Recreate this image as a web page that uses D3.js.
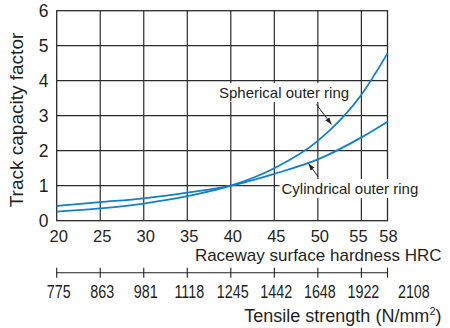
<!DOCTYPE html>
<html><head><meta charset="utf-8">
<script src="https://cdn.jsdelivr.net/npm/d3@7"></script>
<style>
html,body{margin:0;padding:0;background:#fff;}
svg{display:block;}
text{font-family:"Liberation Sans",Arial,Helvetica,sans-serif;fill:#231f20;}
</style></head>
<body>
<svg id="chart" width="450" height="328"></svg>
<script>
// HRC tick values (x axis) and y ticks
const hrcTicks = [20, 25, 30, 35, 40, 45, 50, 55, 58];
const yTicks = [0, 1, 2, 3, 4, 5, 6];
// Tensile strength labels (N/mm²) placed at HRC positions
const tensileLabels = ["775", "863", "981", "1118", "1245", "1442", "1648", "1922", "2108"];
const tensileHrc = [20, 25, 30, 35, 40, 45, 50, 55, 60.8];
// Curves
const hrc = [20, 25, 30, 35, 40, 45, 50, 55, 58];
const spherical = [0.26, 0.35, 0.49, 0.70, 1.0, 1.50, 2.28, 3.60, 4.78];
const cylindrical = [0.42, 0.53, 0.64, 0.80, 1.0, 1.34, 1.75, 2.38, 2.83];

const svg = d3.select("#chart");
const x = d3.scaleLinear().domain([20, 58]).range([56.7, 387.5]);
const y = d3.scaleLinear().domain([0, 6]).range([220.7, 10.7]);
const blue = "#1180cb";
const gridColor = "#2b2b2b";

// grid
const g = svg.append("g");
g.selectAll("line.v").data(hrcTicks.slice(1, -1)).enter().append("line")
  .attr("x1", d => x(d)).attr("x2", d => x(d)).attr("y1", y(6)).attr("y2", y(0))
  .attr("stroke", gridColor).attr("stroke-width", 1.2);
g.selectAll("line.h").data(yTicks.slice(1, -1)).enter().append("line")
  .attr("x1", x(20)).attr("x2", x(58)).attr("y1", d => y(d)).attr("y2", d => y(d))
  .attr("stroke", gridColor).attr("stroke-width", 1.2);
g.append("rect").attr("x", x(20)).attr("y", y(6)).attr("width", x(58) - x(20)).attr("height", y(0) - y(6))
  .attr("fill", "none").attr("stroke", gridColor).attr("stroke-width", 1.3);

// curves
const line = d3.line().x((d, i) => x(hrc[i])).y(d => y(d)).curve(d3.curveMonotoneX);
svg.append("path").datum(cylindrical).attr("d", line).attr("fill", "none").attr("stroke", blue).attr("stroke-width", 1.8);
svg.append("path").datum(spherical).attr("d", line).attr("fill", "none").attr("stroke", blue).attr("stroke-width", 1.8);

// labels with white background
function label(txt, tx, ty) {
  const t = svg.append("text").attr("x", tx).attr("y", ty).attr("font-size", 15).text(txt);
  const b = t.node().getBBox();
  svg.insert("rect", () => t.node()).attr("x", b.x - 2).attr("y", b.y - 1).attr("width", b.width + 4).attr("height", b.height + 2).attr("fill", "#fff");
}
label("Spherical outer ring", 219, 98);
label("Cylindrical outer ring", 281.5, 194);

// leader arrows
const defs = svg.append("defs");
defs.append("marker").attr("id", "arr").attr("viewBox", "0 0 10 10").attr("refX", 10).attr("refY", 5)
  .attr("markerWidth", 7).attr("markerHeight", 7).attr("orient", "auto")
  .append("path").attr("d", "M0,1.5 L10,5 L0,8.5 Z").attr("fill", "#231f20");
svg.append("line").attr("x1", 316.5).attr("y1", 104.5).attr("x2", 331.5).attr("y2", 124.5)
  .attr("stroke", "#231f20").attr("stroke-width", 1).attr("marker-end", "url(#arr)");
svg.append("line").attr("x1", 318).attr("y1", 176.5).attr("x2", 308.5).attr("y2", 163.5)
  .attr("stroke", "#231f20").attr("stroke-width", 1).attr("marker-end", "url(#arr)");

// y tick labels
svg.selectAll("text.yt").data(yTicks).enter().append("text")
  .attr("x", 48.5).attr("y", d => y(d) + 6.3).attr("text-anchor", "end").attr("font-size", 17.5).text(d => d);

// x (HRC) tick labels
svg.selectAll("text.xt").data(hrcTicks).enter().append("text")
  .attr("x", d => x(d) + (d === 55 ? -3 : d === 58 ? 1 : 2)).attr("y", 242).attr("text-anchor", "middle")
  .attr("font-size", 16.5).text(d => d);
svg.append("text").attr("x", 441.5).attr("y", 261).attr("text-anchor", "end").attr("font-size", 17)
  .text("Raceway surface hardness HRC");

// tensile axis
const ty = 272.7;
svg.append("line").attr("x1", x(20)).attr("x2", x(58)).attr("y1", ty).attr("y2", ty).attr("stroke", "#231f20").attr("stroke-width", 1.1);
svg.selectAll("line.tt").data(hrcTicks).enter().append("line")
  .attr("x1", d => x(d)).attr("x2", d => x(d)).attr("y1", ty - 5).attr("y2", ty + 5)
  .attr("stroke", "#231f20").attr("stroke-width", 1.1);
svg.selectAll("text.tl").data(tensileLabels).enter().append("text")
  .attr("transform", (d, i) => `translate(${x(tensileHrc[i]) + 2},298) scale(0.82,1)`)
  .attr("text-anchor", "middle").attr("font-size", 17.5).text(d => d);
const tt = svg.append("text").attr("x", 441.5).attr("y", 322).attr("text-anchor", "end").attr("font-size", 18);
tt.append("tspan").text("Tensile strength (N/mm");
tt.append("tspan").attr("font-size", 11).attr("dy", -7).text("2");
tt.append("tspan").attr("dy", 7).text(")");

// y axis title
svg.append("text").attr("transform", "translate(23,120) rotate(-90)").attr("text-anchor", "middle")
  .attr("font-size", 19).text("Track capacity factor");
</script>
</body></html>
